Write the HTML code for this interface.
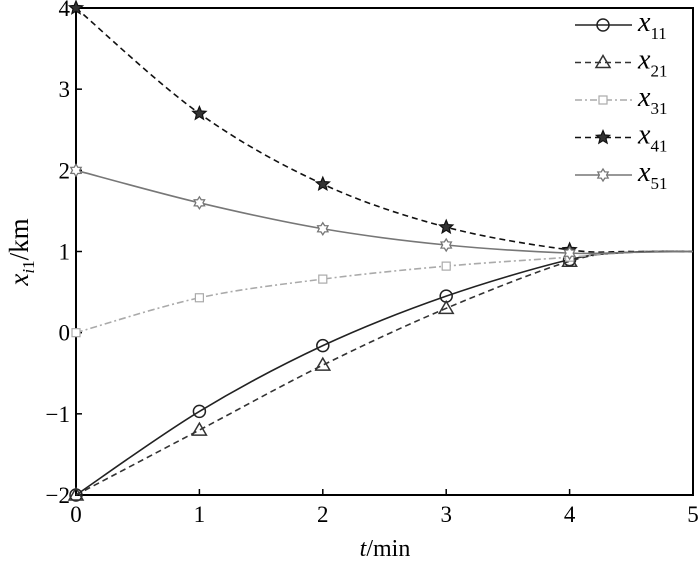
<!DOCTYPE html>
<html><head><meta charset="utf-8">
<style>
body{margin:0;background:#fff;}
svg text{font-family:"Liberation Serif",serif;fill:#000;}
</style></head>
<body>
<svg id="chart" width="700" height="563" xmlns="http://www.w3.org/2000/svg"></svg>
<script>
const xTicks=[0,1,2,3,4,5];
const yTicks=[-2,-1,0,1,2,3,4];
const tVals=[0,1,2,3,4,4.5,5];
const s11=[-2,-0.97,-0.16,0.45,0.9,0.99,1];
const s21=[-2,-1.2,-0.4,0.3,0.88,0.99,1];
const s31=[0,0.43,0.66,0.82,0.93,0.99,1];
const s41=[4,2.7,1.83,1.3,1.02,1.0,1];
const s51=[2,1.6,1.28,1.08,0.98,0.99,1];
const names=["11","21","31","41","51"];

const L=76,R=693,T=8,B=495;
const X=v=>L+(v-0)/(5-0)*(R-L);
const Y=v=>B-(v+2)/6*(B-T);
const svg=document.getElementById('chart');
const NS="http://www.w3.org/2000/svg";
function mk(tag,attrs,parent){const e=document.createElementNS(NS,tag);for(const k in attrs)e.setAttribute(k,attrs[k]);(parent||svg).appendChild(e);return e;}

const frame=mk('rect',{x:L,y:T,width:R-L,height:B-T,fill:'none',stroke:'#000','stroke-width':2});



xTicks.forEach(v=>{
  const l=mk('line',{x1:X(v),x2:X(v),y1:B,y2:B-6,stroke:'#000','stroke-width':1.5});
  
  
  const t=mk('text',{x:X(v),y:B+27,'text-anchor':'middle','font-size':23});
  t.textContent=v;
  
  
});
yTicks.forEach(v=>{
  const l=mk('line',{x1:L,x2:L+6,y1:Y(v),y2:Y(v),stroke:'#000','stroke-width':1.5});
  
  
  const t=mk('text',{x:L-6,y:Y(v)+8,'text-anchor':'end','font-size':23});
  t.textContent=v<0?'\u2212'+(-v):v;
  
  
});

function smooth(vals){
  const p=tVals.map((t,i)=>[X(t),Y(vals[i])]);
  let d='M'+p[0][0]+','+p[0][1];
  for(let i=0;i<p.length-1;i++){
    const p0=p[i-1]||p[i],p1=p[i],p2=p[i+1],p3=p[i+2]||p[i+1];
    const c1=[p1[0]+(p2[0]-p0[0])/6,p1[1]+(p2[1]-p0[1])/6];
    const c2=[p2[0]-(p3[0]-p1[0])/6,p2[1]-(p3[1]-p1[1])/6];
    d+=` C${c1[0]},${c1[1]} ${c2[0]},${c2[1]} ${p2[0]},${p2[1]}`;
  }
  return d;
}
function star(cx,cy,r,fill,col,g){
  let pts=[];for(let k=0;k<10;k++){const a=-Math.PI/2+k*Math.PI/5;const rr=k%2?r*0.45:r;pts.push((cx+rr*Math.cos(a))+','+(cy+rr*Math.sin(a)));}
  return mk('polygon',{points:pts.join(' '),fill:fill,stroke:col,'stroke-width':1.2},g);
}
function hexstar(cx,cy,r,col,g){
  let pts=[];for(let k=0;k<12;k++){const a=-Math.PI/2+k*Math.PI/6;const rr=k%2?r*0.6:r;pts.push((cx+rr*Math.cos(a))+','+(cy+rr*Math.sin(a)));}
  return mk('polygon',{points:pts.join(' '),fill:'#fff',stroke:col,'stroke-width':1.3},g);
}
function marker(type,cx,cy,col,g){
  if(type==='circle')return mk('circle',{cx:cx,cy:cy,r:6,fill:'none',stroke:col,'stroke-width':1.5},g);
  if(type==='tri')return mk('polygon',{points:`${cx},${cy-7} ${cx-7},${cy+5} ${cx+7},${cy+5}`,fill:'none',stroke:col,'stroke-width':1.5},g);
  if(type==='sq')return mk('rect',{x:cx-4,y:cy-4,width:8,height:8,fill:'#fff',stroke:col,'stroke-width':1.2},g);
  if(type==='star')return star(cx,cy,7,'#333',col,g);
  return hexstar(cx,cy,6,col,g);
}
const series=[
 {v:s11,col:'#222',dash:'',m:'circle'},
 {v:s21,col:'#333',dash:'6,4',m:'tri'},
 {v:s31,col:'#aaa',dash:'7,3,2,3',m:'sq'},
 {v:s41,col:'#111',dash:'6,4',m:'star'},
 {v:s51,col:'#777',dash:'',m:'ostar'}
];
series.forEach((s,i)=>{
  const g=mk('g',{});
  
  
  mk('path',{d:smooth(s.v),fill:'none',stroke:s.col,'stroke-width':1.6,'stroke-dasharray':s.dash},g);
  for(let k=0;k<5;k++){
    const m=marker(s.m,X(tVals[k]),Y(s.v[k]),s.col,g);
    
    
  }
  const lg=mk('g',{});
  
  
  const ly=25+i*37.5;
  mk('line',{x1:575,x2:632,y1:ly,y2:ly,stroke:s.col,'stroke-width':1.6,'stroke-dasharray':s.dash},lg);
  marker(s.m,603,ly,s.col,lg);
  const t=mk('text',{x:638,y:ly+6,'font-size':28,'font-style':'italic'},lg);
  t.textContent='x';
  const sub=mk('tspan',{dy:8,'font-size':17,'font-style':'normal'},t);
  sub.textContent=names[i];
});

const xl=mk('text',{x:385,y:556,'text-anchor':'middle','font-size':24});


xl.innerHTML='<tspan font-style="italic">t</tspan>/min';
const yl=mk('text',{x:0,y:0,'text-anchor':'middle','font-size':27,transform:'translate(28,252) rotate(-90)'});


yl.innerHTML='<tspan font-style="italic">x</tspan><tspan font-style="italic" font-size="17" dy="6">i</tspan><tspan font-size="17">1</tspan><tspan dy="-6">/km</tspan>';
</script>
</body></html>
